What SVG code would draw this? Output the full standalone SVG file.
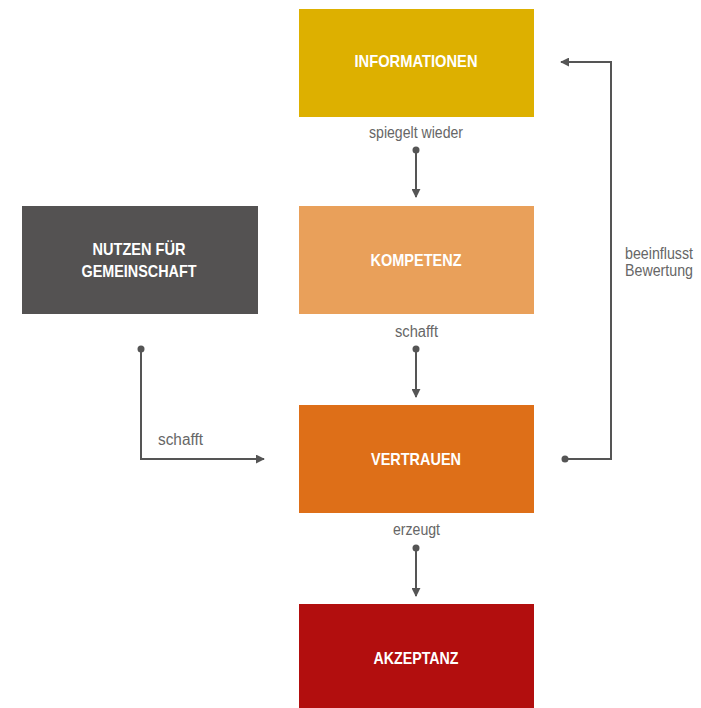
<svg xmlns="http://www.w3.org/2000/svg" width="701" height="708" viewBox="0 0 701 708">
<defs>
<style>
.box text{font-family:"Liberation Sans",Arial,sans-serif;font-weight:bold;font-size:17px;fill:#fff;text-anchor:middle}
.lbl{font-family:"Liberation Sans",Arial,sans-serif;font-size:16px;fill:#666}
.conn path{fill:none;stroke:#555;stroke-width:2}
.conn circle{fill:#555}
</style>
<marker id="ah" viewBox="0 0 10 10" refX="9" refY="5" markerWidth="9" markerHeight="9" markerUnits="userSpaceOnUse" orient="auto">
<path d="M0,0 L10,5 L0,10 Z" fill="#555"/>
</marker>
</defs>
<rect width="701" height="708" fill="#fff"/>
<g id="informationen" class="box">
<rect x="299" y="9" width="235" height="108" fill="#DDB000"/>
<text x="416" y="67" textLength="123" lengthAdjust="spacingAndGlyphs">INFORMATIONEN</text>
</g>
<g id="kompetenz" class="box">
<rect x="299" y="206" width="235" height="108" fill="#E9A05A"/>
<text x="416" y="266" textLength="91" lengthAdjust="spacingAndGlyphs">KOMPETENZ</text>
</g>
<g id="vertrauen" class="box">
<rect x="299" y="405" width="235" height="108" fill="#DE6F18"/>
<text x="416" y="465" textLength="90" lengthAdjust="spacingAndGlyphs">VERTRAUEN</text>
</g>
<g id="akzeptanz" class="box">
<rect x="299" y="604" width="235" height="104" fill="#B20E0E"/>
<text x="416" y="664" textLength="85" lengthAdjust="spacingAndGlyphs">AKZEPTANZ</text>
</g>
<g id="nutzen" class="box">
<rect x="22" y="206" width="236" height="108" fill="#545252"/>
<text x="139" y="255" textLength="93" lengthAdjust="spacingAndGlyphs">NUTZEN FÜR</text>
<text x="139" y="277" textLength="115" lengthAdjust="spacingAndGlyphs">GEMEINSCHAFT</text>
</g>
<g id="connectors" class="conn">
<path d="M416,150 V197" marker-end="url(#ah)"/>
<circle cx="416" cy="150" r="3.5"/>
<path d="M416,349 V397" marker-end="url(#ah)"/>
<circle cx="416" cy="349" r="3.5"/>
<path d="M416,548 V596" marker-end="url(#ah)"/>
<circle cx="416" cy="548" r="3.5"/>
<path d="M141,349 V459 H264" marker-end="url(#ah)"/>
<circle cx="141" cy="349" r="3.5"/>
<path d="M565,459 H611 V62 H561" marker-end="url(#ah)"/>
<circle cx="565" cy="459" r="3.5"/>
</g>
<g id="labels">
<text class="lbl" x="369" y="138" textLength="94" lengthAdjust="spacingAndGlyphs">spiegelt wieder</text>
<text class="lbl" x="395" y="337" textLength="43" lengthAdjust="spacingAndGlyphs">schafft</text>
<text class="lbl" x="393" y="535" textLength="47" lengthAdjust="spacingAndGlyphs">erzeugt</text>
<text class="lbl" x="158" y="445" textLength="45" lengthAdjust="spacingAndGlyphs">schafft</text>
<text class="lbl" x="625" y="259" textLength="68" lengthAdjust="spacingAndGlyphs">beeinflusst</text>
<text class="lbl" x="625" y="276" textLength="68" lengthAdjust="spacingAndGlyphs">Bewertung</text>
</g>
</svg>
